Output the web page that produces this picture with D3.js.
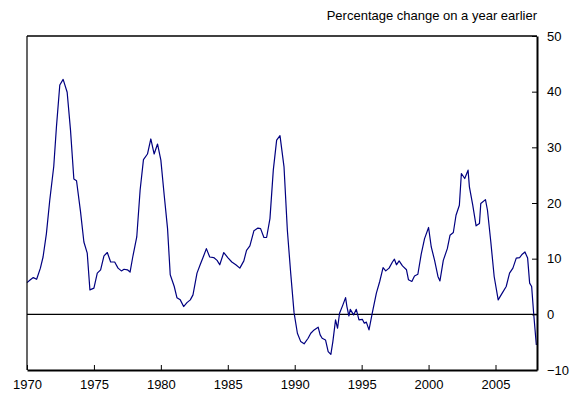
<!DOCTYPE html>
<html>
<head>
<meta charset="utf-8">
<script src="https://cdn.jsdelivr.net/npm/d3@7"></script>
<style>
  body { margin: 0; background: #fff; }
  text { font-family: "Liberation Sans", Arial, sans-serif; font-size: 13px; fill: #000; }
</style>
</head>
<body>
<div id="chart"></div>
<script>
// Percentage change on a year earlier
const years = [
  1970.0, 1970.25, 1970.47, 1970.72, 1971.0, 1971.2, 1971.45, 1971.7, 1972.0, 1972.2,
  1972.45, 1972.7, 1973.0, 1973.25, 1973.5, 1973.7, 1974.0, 1974.25, 1974.5, 1974.7,
  1975.0, 1975.25, 1975.5, 1975.75, 1976.0, 1976.25, 1976.55, 1976.8, 1977.05, 1977.25,
  1977.5, 1977.7, 1977.9, 1978.2, 1978.45, 1978.7, 1979.0, 1979.25, 1979.5, 1979.75,
  1980.0, 1980.25, 1980.5, 1980.7, 1981.0, 1981.2, 1981.45, 1981.7, 1981.95, 1982.2,
  1982.4, 1982.7, 1982.95, 1983.15, 1983.4, 1983.65, 1983.95, 1984.2, 1984.4, 1984.7,
  1985.0, 1985.3, 1985.6, 1985.9, 1986.2, 1986.4, 1986.65, 1986.95, 1987.25, 1987.45,
  1987.7, 1987.9, 1988.15, 1988.4, 1988.65, 1988.9, 1989.2, 1989.45, 1989.7, 1989.95,
  1990.2, 1990.45, 1990.7, 1991.0, 1991.2, 1991.45, 1991.75, 1991.9, 1992.05, 1992.3,
  1992.5, 1992.7, 1992.85, 1993.05, 1993.2, 1993.35, 1993.6, 1993.8, 1993.9, 1994.05,
  1994.15, 1994.4, 1994.6, 1994.8, 1995.05, 1995.2, 1995.35, 1995.55, 1995.8, 1996.1,
  1996.35, 1996.6, 1996.8, 1997.05, 1997.3, 1997.45, 1997.6, 1997.8, 1998.05, 1998.35,
  1998.5, 1998.75, 1998.95, 1999.2, 1999.45, 1999.7, 2000.0, 2000.2, 2000.45, 2000.7,
  2000.85, 2001.1, 2001.4, 2001.6, 2001.85, 2002.05, 2002.3, 2002.45, 2002.7, 2002.95,
  2003.05, 2003.3, 2003.55, 2003.8, 2003.9, 2004.25, 2004.4, 2004.65, 2004.9, 2005.2,
  2005.5, 2005.8, 2006.05, 2006.3, 2006.55, 2006.8, 2007.0, 2007.2, 2007.4, 2007.55,
  2007.7, 2007.85, 2008.05
];
const values = [
  5.7, 6.2, 6.6, 6.3, 8.3, 10.3, 14.5, 20.5, 26.6, 33.7,
  41.2, 42.2, 39.9, 33.1, 24.3, 24.0, 18.4, 13.0, 11.0, 4.4,
  4.7, 7.4, 8.0, 10.5, 11.1, 9.4, 9.4, 8.3, 7.8, 8.1,
  8.0, 7.6, 10.3, 13.9, 22.3, 27.8, 28.8, 31.5, 28.8, 30.6,
  27.7, 21.4, 15.4, 7.1, 5.0, 3.0, 2.6, 1.4, 2.1, 2.6,
  3.5, 7.4, 9.0, 10.2, 11.8, 10.3, 10.2, 9.7, 8.9, 11.1,
  10.2, 9.4, 8.9, 8.3, 9.6, 11.5, 12.3, 15.0, 15.5, 15.4,
  13.8, 13.8, 17.2, 25.9, 31.3, 32.1, 26.5, 15.1, 7.4, 0.3,
  -3.4, -4.9, -5.3, -4.3, -3.4, -2.8, -2.3, -3.7, -4.3, -4.6,
  -6.7, -7.2, -4.9, -1.0, -2.5, 0.2, 1.7, 3.0, 1.4, -0.3,
  0.9, -0.1, 0.9, -1.0, -0.9, -1.6, -1.4, -2.8, 0.3, 3.8,
  5.9, 8.4, 7.8, 8.3, 9.4, 9.9, 8.9, 9.6, 8.7, 8.0,
  6.2, 5.9, 6.9, 7.2, 10.8, 13.6, 15.6, 12.1, 9.7, 6.8,
  6.0, 9.7, 11.8, 14.2, 14.7, 17.8, 19.6, 25.3, 24.4, 25.9,
  22.9, 19.6, 15.9, 16.3, 19.9, 20.6, 18.7, 13.0, 6.8, 2.6,
  3.8, 5.0, 7.4, 8.3, 10.1, 10.2, 10.8, 11.2, 10.1, 5.6,
  5.0, 0.2, -5.5
];
const xTicks = [1970, 1975, 1980, 1985, 1990, 1995, 2000, 2005];
const yTicks = [-10, 0, 10, 20, 30, 40, 50];
const title = "Percentage change on a year earlier";

const width = 583;
const height = 403;
const margin = { left: 27, right: 537, top: 36, bottom: 370 };

const x = d3.scaleLinear().domain([1970, 2008.1]).range([margin.left, margin.right]);
const y = d3.scaleLinear().domain([-10, 50]).range([margin.bottom, margin.top]);

const svg = d3.select("#chart")
  .append("svg")
  .attr("width", width)
  .attr("height", height);

// title
svg.append("text")
  .attr("x", margin.right)
  .attr("y", 20)
  .attr("text-anchor", "end")
  .text(title);

// zero line
svg.append("line")
  .attr("x1", margin.left).attr("x2", margin.right)
  .attr("y1", y(0)).attr("y2", y(0))
  .attr("stroke", "#000")
  .attr("stroke-width", 1.2);

// series
const data = years.map((d, i) => [d, values[i]]);
svg.append("path")
  .datum(data)
  .attr("fill", "none")
  .attr("stroke", "#000080")
  .attr("stroke-width", 1.2)
  .attr("stroke-linejoin", "round")
  .attr("d", d3.line().x(d => x(d[0])).y(d => y(d[1])));

// x axis (ticks pointing inward)
const xAxis = svg.append("g")
  .attr("transform", `translate(0,${margin.bottom})`)
  .call(d3.axisBottom(x).tickValues(xTicks).tickFormat(d3.format("d")).tickSizeInner(-5).tickSizeOuter(0).tickPadding(10));
xAxis.select(".domain").attr("stroke-width", 2);
xAxis.selectAll("text").style("font-size", "13px");

// y axis on the right (ticks pointing inward)
const yAxis = svg.append("g")
  .attr("transform", `translate(${margin.right},0)`)
  .call(d3.axisRight(y).tickValues(yTicks).tickSizeInner(-5).tickSizeOuter(0).tickPadding(10));
yAxis.select(".domain").attr("stroke-width", 2);
yAxis.selectAll("text").style("font-size", "13px");

// frame: top and left
svg.append("line")
  .attr("x1", margin.left).attr("x2", margin.right)
  .attr("y1", margin.top).attr("y2", margin.top)
  .attr("stroke", "#000").attr("stroke-width", 1.5);
svg.append("line")
  .attr("x1", margin.left).attr("x2", margin.left)
  .attr("y1", margin.top).attr("y2", margin.bottom)
  .attr("stroke", "#000").attr("stroke-width", 1.2);
</script>
</body>
</html>
